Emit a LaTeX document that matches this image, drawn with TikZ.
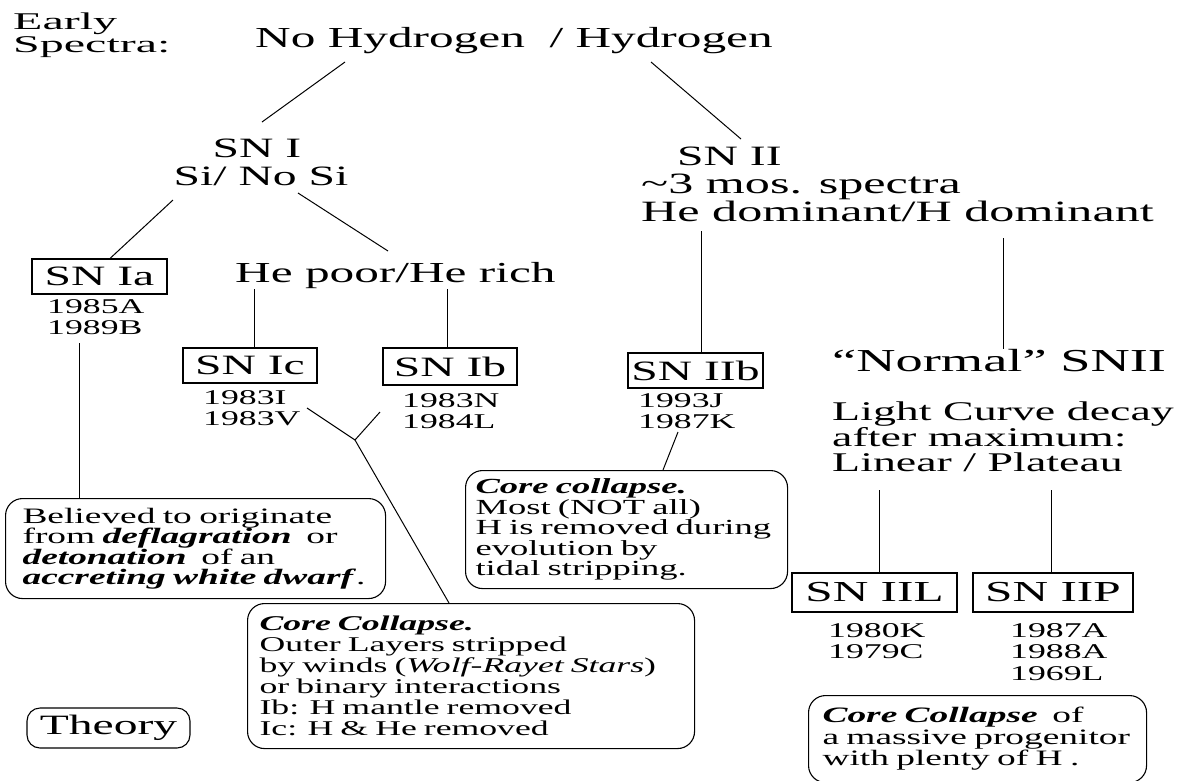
\documentclass[tikz,border=0pt]{standalone}
\usepackage{fontspec}
\setmainfont{Liberation Serif}[FakeStretch=1.7]
\newfontfamily\wideS{Liberation Serif}[FakeStretch=2.0]
\usetikzlibrary{calc}
\newcommand\fzz[2]{\fontsize{#1}{#2}\selectfont}
\newcommand\bi[1]{\textbf{\textit{#1}}}
\begin{document}
\begin{tikzpicture}[x=1pt,y=-1pt,
  tx/.style={inner sep=0pt},
  lbl/.style={draw,line width=1.1pt,inner sep=0pt,minimum height=35pt,font=\fzz{28}{30}},
  yr/.style={inner sep=0pt,anchor=north west,align=left,font=\fzz{21}{21.5}},
  note/.style={draw,line width=1.1pt,rounded corners=17pt,anchor=north west,align=left,inner ysep=0pt},
  conn/.style={line width=1pt}]
\useasboundingbox (0,0) rectangle (1191,780);

% headings
\node[tx,anchor=north west,align=left,font=\wideS\fzz{24}{23}] (early) at (13,13) {Early\\Spectra:};
\node[tx,anchor=base west,font=\fzz{29}{30}] (hdr) at (255,47) {No Hydrogen\ \ / Hydrogen};

% SN I branch
\node[tx,anchor=base,font=\fzz{28}{30}] (sn1) at (257,157) {SN I};
\node[tx,anchor=base,font=\fzz{28}{30}] (si) at (261,185) {Si/ No Si};
\node[lbl,minimum width=135pt] (ia) at (99.5,276.5) {SN Ia};
\node[yr] (iayr) at (47,299) {1985A\\1989B};
\node[tx,anchor=base west,font=\fzz{29}{30}] (he) at (235,282) {He poor/He rich};
\node[lbl,minimum width=134pt] (ic) at (250,365.5) {SN Ic};
\node[lbl,minimum width=134pt,minimum height=37pt] (ib) at (450,366.5) {SN Ib};
\node[yr] (icyr) at (203,390) {1983I\\1983V};
\node[yr] (ibyr) at (402,393) {1983N\\1984L};

% SN II branch
\node[tx,anchor=base west,font=\fzz{28}{30}] (sn2) at (677,165) {SN II};
\node[tx,anchor=north west,align=left,font=\fzz{29.5}{28}] (dom) at (641,174) {\textasciitilde3 mos. spectra\\He dominant/H dominant};
\node[lbl,minimum width=135pt] (iib) at (695.5,370.5) {SN IIb};
\node[yr] (iibyr) at (638,393) {1993J\\1987K};
\node[tx,anchor=base west,font=\fzz{32}{30}] (normal) at (832,371) {“Normal” SNII};
\node[tx,anchor=north west,align=left,font=\fzz{27}{24.5}] (lc) at (832,402) {Light Curve decay\\after maximum:\\Linear / Plateau};
\node[lbl,minimum width=165pt,minimum height=39pt,font=\fzz{29}{30}] (iil) at (874.5,592.5) {SN IIL};
\node[lbl,minimum width=160pt,minimum height=39pt,font=\fzz{29}{30}] (iip) at (1053,592.5) {SN IIP};
\node[yr] (iilyr) at (828,623) {1980K\\1979C};
\node[yr] (iipyr) at (1010,623) {1987A\\1988A\\1969L};

% notes
\node[note,inner xsep=17pt,text width=346pt,minimum height=100pt,font=\fzz{22}{20.5}] (iant) at (5,498)
  {Believed to originate\\from \bi{deflagration}\ \ or\\\bi{detonation}\ \ of an\\\bi{accreting white dwarf}.};
\node[note,inner xsep=10pt,text width=302pt,minimum height=118pt,font=\fzz{21.5}{20.5}] (iibnt) at (465,470)
  {\bi{Core collapse.}\\Most (NOT all)\\H is removed during\\evolution by\\tidal stripping.};
\node[note,inner xsep=12pt,text width=423pt,minimum height=145pt,font=\fzz{21}{21}] (ccnt) at (247,603)
  {\bi{Core Collapse.}\\Outer Layers stripped\\by winds (\textit{Wolf-Rayet Stars})\\or binary interactions\\Ib: H mantle removed\\Ic: H \& He removed};
\node[note,inner xsep=14pt,text width=310pt,minimum height=87pt,font=\fzz{22}{21.5}] (iint) at (808,695)
  {\bi{Core Collapse}\ \ of\\a massive progenitor\\with plenty of H .};
\node[draw,line width=1.1pt,rounded corners=13pt,minimum width=163pt,minimum height=40pt,inner sep=0pt,font=\fzz{28}{30}] (theory) at (108.5,728) {Theory};

% connector end points
\coordinate (h1) at (345,62);
\coordinate (h2) at (651,62);
\coordinate (s1) at (262,122);
\coordinate (s2) at (741,139);
\coordinate (si1) at (173,200);
\coordinate (si2) at (298,193);
\coordinate (he0) at (388,251);
\coordinate (hep) at (254,289);
\coordinate (her) at (447,289);
\coordinate (iy) at (79,343);
\coordinate (y1) at (307,408);
\coordinate (y2) at (380,412);
\coordinate (yj) at (355,440);
\coordinate (d1) at (701,231);
\coordinate (d2) at (1003,238);
\coordinate (k1) at (678,432);
\coordinate (lp1) at (879,490);
\coordinate (lp2) at (1051,490);

\draw[conn] (h1) -- (s1);
\draw[conn] (h2) -- (s2);
\draw[conn] (si1) -- (ia.north -| 110,0);
\draw[conn] (si2) -- (he0);
\draw[conn] (hep) -- (hep |- ic.north);
\draw[conn] (her) -- (her |- ib.north);
\draw[conn] (iy) -- (iy |- iant.north);
\draw[conn] (y1) -- (yj) -- (y2);
\draw[conn] (yj) -- (ccnt.north -| 449,0);
\draw[conn] (d1) -- (d1 |- iib.north);
\draw[conn] (d2) -- (d2 |- normal.north);
\draw[conn] (k1) -- (iibnt.north -| 663,0);
\draw[conn] (lp1) -- (lp1 |- iil.north);
\draw[conn] (lp2) -- (lp2 |- iip.north);
\end{tikzpicture}
\end{document}
